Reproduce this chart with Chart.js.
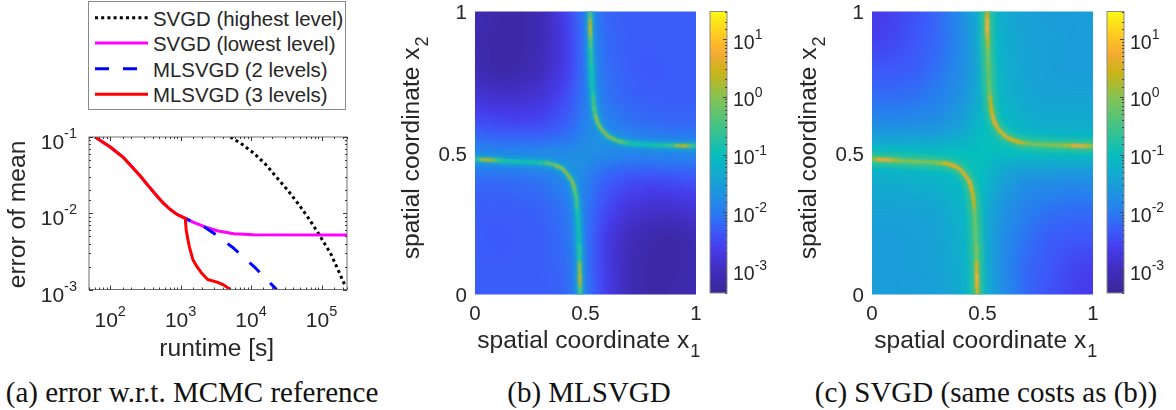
<!DOCTYPE html>
<html><head><meta charset="utf-8">
<script src="https://cdn.jsdelivr.net/npm/chart.js@4"></script>
<style>
html,body{margin:0;padding:0;background:#fff;width:1176px;height:410px;overflow:hidden}
canvas{position:absolute}
.cap{position:absolute;font-family:"Liberation Serif",serif;font-size:29px;color:#111;white-space:nowrap;line-height:30px;top:377px;transform:translateX(-50%)}
#legend{position:absolute;left:88px;top:1px;width:256px;height:107px;border:1px solid #8a8a8a;background:#fff;font-family:"Liberation Sans",sans-serif;font-size:20.4px;color:#262626}
#legend div{position:absolute;left:64px;white-space:nowrap;line-height:24px}
#legend svg{position:absolute;left:6px;top:0}
</style></head><body>
<canvas id="a"></canvas><canvas id="b"></canvas><canvas id="bc"></canvas><canvas id="c"></canvas><canvas id="cc"></canvas>
<div id="legend">
<svg width="56" height="107"><line x1="0" x2="53" y1="15.7" y2="15.7" stroke="#000" stroke-width="3" stroke-dasharray="3 3.2"/><line x1="0" x2="53" y1="41" y2="41" stroke="#ff00ff" stroke-width="3"/><line x1="0" x2="53" y1="66.7" y2="66.7" stroke="#0000ff" stroke-width="3" stroke-dasharray="14 14"/><line x1="0" x2="53" y1="92.3" y2="92.3" stroke="#ff0000" stroke-width="3"/></svg>
<div style="top:4.5px">SVGD (highest level)</div><div style="top:30px">SVGD (lowest level)</div><div style="top:56px">MLSVGD (2 levels)</div><div style="top:81px">MLSVGD (3 levels)</div>
</div>
<div class="cap" style="left:192px">(a) error w.r.t. MCMC reference</div>
<div class="cap" style="left:589px">(b) MLSVGD</div>
<div class="cap" style="left:986px">(c) SVGD (same costs as (b))</div>
<script>
// ---- panel (a) ----
const lowX=[61,100,155,203,267,351,461,573,713,887,1165,1530,2120,3290,5680,11000,230000];
const lowY=[.1,.074,.0536,.0408,.0308,.0227,.0168,.01345,.0112,.00966,.00855,.00758,.00671,.00589,.00538,.00522,.0052];
const highX=[5080,7500,11000,16000,23500,34000,50000,66000,87000,135000,170000,220000];
const highY=[.1,.08,.061,.044,.029,.0195,.0122,.0085,.00575,.00295,.00185,.00108];
const twoX=[1165,1530,2120,3290,5680,11000,23000];
const twoY=[.00855,.00758,.00671,.0051,.00347,.002,.001];
const threeX=[61,100,155,203,267,351,461,573,713,887,1165,1178,1200,1260,1330,1500,1706,2010,2420,3290,4070,5080];
const threeY=[.1,.074,.0536,.0408,.0308,.0227,.0168,.01345,.0112,.00966,.00855,.00734,.006,.00468,.00363,.00243,.00199,.00162,.00135,.00125,.00115,.001];
// ---- heat maps: log10 of the value on a non-uniform grid ----
const gridX=[0,.1,.2,.3,.4,.45,.5,.55,.6,.7,.8,.9,1];
const gridY=[1,.9,.8,.7,.6,.55,.5,.45,.4,.3,.2,.1,0];
const heatB=[
[-3.1,-3.2,-3.25,-3.1,-2.65,-2.35,-2.0,-2.0,-2.25,-2.3,-2.3,-2.3,-2.3],
[-3.15,-3.25,-3.25,-3.1,-2.7,-2.4,-2.05,-1.95,-2.2,-2.3,-2.3,-2.3,-2.3],
[-3.1,-3.25,-3.2,-3.05,-2.7,-2.4,-2.05,-1.9,-2.15,-2.3,-2.35,-2.3,-2.3],
[-2.8,-2.9,-2.9,-2.8,-2.5,-2.3,-2.0,-1.85,-2.1,-2.25,-2.3,-2.3,-2.3],
[-2.4,-2.45,-2.5,-2.45,-2.3,-2.15,-1.9,-1.75,-1.9,-2.1,-2.15,-2.2,-2.2],
[-2.15,-2.2,-2.2,-2.2,-2.1,-2.0,-1.8,-1.7,-1.7,-1.8,-1.9,-1.9,-1.9],
[-1.8,-1.85,-1.85,-1.8,-1.8,-1.75,-1.7,-1.75,-1.8,-1.85,-1.85,-1.85,-1.8],
[-1.9,-1.9,-1.9,-1.8,-1.7,-1.7,-1.8,-2.0,-2.1,-2.2,-2.2,-2.15,-2.15],
[-2.2,-2.2,-2.15,-2.1,-1.9,-1.75,-1.9,-2.15,-2.3,-2.45,-2.5,-2.45,-2.4],
[-2.3,-2.3,-2.3,-2.25,-2.1,-1.85,-2.0,-2.3,-2.5,-2.8,-2.9,-2.9,-2.8],
[-2.3,-2.35,-2.3,-2.3,-2.15,-1.9,-2.05,-2.4,-2.7,-3.05,-3.2,-3.25,-3.1],
[-2.3,-2.3,-2.3,-2.3,-2.2,-1.95,-2.05,-2.4,-2.7,-3.1,-3.25,-3.25,-3.15],
[-2.3,-2.3,-2.3,-2.3,-2.25,-2.0,-2.0,-2.35,-2.65,-3.1,-3.25,-3.2,-3.1]];
const heatC=[
[-2.7,-2.55,-2.4,-2.2,-1.8,-1.5,-1.1,-1.1,-1.35,-1.5,-1.55,-1.55,-1.5],
[-2.6,-2.5,-2.35,-2.2,-1.85,-1.55,-1.15,-1.05,-1.3,-1.45,-1.5,-1.55,-1.55],
[-2.35,-2.35,-2.3,-2.1,-1.8,-1.55,-1.2,-1.05,-1.25,-1.45,-1.5,-1.55,-1.55],
[-2.15,-2.15,-2.1,-1.95,-1.7,-1.5,-1.15,-1.0,-1.2,-1.4,-1.45,-1.45,-1.45],
[-1.75,-1.8,-1.75,-1.7,-1.5,-1.3,-1.05,-.95,-1.05,-1.25,-1.3,-1.3,-1.3],
[-1.45,-1.45,-1.45,-1.4,-1.25,-1.15,-1.0,-.95,-.95,-1.0,-1.05,-1.1,-1.1],
[-1.0,-1.0,-1.0,-1.0,-1.0,-1.0,-1.0,-1.0,-1.0,-1.0,-1.0,-1.0,-1.0],
[-1.1,-1.1,-1.05,-1.0,-.95,-.95,-1.0,-1.2,-1.35,-1.45,-1.45,-1.45,-1.45],
[-1.3,-1.3,-1.25,-1.2,-1.05,-.95,-1.05,-1.3,-1.5,-1.75,-1.75,-1.8,-1.75],
[-1.45,-1.45,-1.45,-1.4,-1.2,-1.0,-1.15,-1.5,-1.7,-1.95,-2.1,-2.15,-2.15],
[-1.55,-1.55,-1.5,-1.45,-1.25,-1.05,-1.2,-1.55,-1.8,-2.1,-2.3,-2.35,-2.35],
[-1.55,-1.55,-1.5,-1.45,-1.3,-1.05,-1.15,-1.55,-1.85,-2.2,-2.35,-2.5,-2.6],
[-1.5,-1.55,-1.55,-1.5,-1.35,-1.1,-1.1,-1.5,-1.8,-2.2,-2.4,-2.55,-2.7]];
// ridges along the two curved arms
const armLLx=[0,.03,.057,.085,.12,.19,.25,.295,.325,.348,.37,.396,.418,.441,.45,.458,.463,.468,.471,.473,.474,.475,.476];
const armLLy=[.478,.477,.476,.475,.473,.47,.468,.466,.464,.461,.454,.445,.425,.399,.373,.346,.30,.24,.17,.11,.064,.03,0];
const armURx=[.521,.521,.521,.522,.524,.526,.529,.534,.539,.546,.556,.575,.604,.63,.657,.69,.74,.807,.87,.91,.943,.97,1];
const armURy=[1,.97,.94,.91,.87,.805,.75,.70,.658,.63,.605,.58,.558,.548,.54,.535,.531,.528,.527,.526,.525,.525,.525];
const armLLb=[-.75,-.2,.9,-.2,-.65,-.9,-.9,-.8,-.55,.1,-.55,.7,-.55,.7,-.55,-.1,-.8,-.9,-.9,-.45,.8,-.1,-.55];
const armURb=[-.55,-.1,.8,-.2,-.45,-.9,-.9,-.8,-.1,-.55,.7,-.55,.7,-.55,.1,-.75,-.9,-.9,-.65,-.45,.9,-.2,-.75];
const armLLc=[.1,.4,1.15,.4,.05,-.05,-.05,-.05,.1,1.0,.05,1.1,.05,1.1,.1,.8,-.1,-.25,-.25,.1,1.0,.6,.4];
const armURc=[.4,.6,1.05,.4,.1,-.25,-.25,-.1,.8,.1,1.1,.05,1.1,.05,1.0,-.05,-.05,-.05,.05,.4,1.15,.4,.1];
// colour bar range and its map, bottom to top
const barMin=4e-4, barMax=30;
const cmapT=[0,.08,.16,.22,.287,.39,.49,.59,.69,.78,.85,.905,1];
const cmapC=[[58,38,150],[65,45,190],[70,60,235],[60,90,250],[40,125,240],[25,160,215],[5,190,190],[65,195,135],[130,195,85],[200,180,25],[245,170,50],[255,195,35],[250,250,20]];
// axis texts
const tickFracs=[0,.5,1];
const titleRuntime='runtime [s]', titleError='error of mean', titleX1='spatial coordinate x', titleX2='spatial coordinate x';

const logMin=Math.log10(barMin), logMax=Math.log10(barMax);
function rgbAt(t){t=Math.max(0,Math.min(1,t));let i=0;while(i<cmapT.length-2&&t>cmapT[i+1])i++;
  const f=(t-cmapT[i])/(cmapT[i+1]-cmapT[i]);return cmapC[i].map((c,k)=>c+(cmapC[i+1][k]-c)*f);}
function colorOf(v){const c=rgbAt((v-logMin)/(logMax-logMin));return `rgb(${c[0]|0},${c[1]|0},${c[2]|0})`;}
const FONT='"Liberation Sans",Arial,sans-serif', INK='#262626';
function pow10Label(v){const e=Math.round(Math.log10(v));if(Math.abs(Math.log10(v)-e)>1e-6)return '';return String(e);}
Chart.defaults.animation=false;Chart.defaults.responsive=false;Chart.defaults.font.family=FONT;Chart.defaults.color=INK;

function place(id,l,t,w,h){const c=document.getElementById(id);c.width=w;c.height=h;c.style.left=l+'px';c.style.top=t+'px';c.style.width=w+'px';c.style.height=h+'px';return c;}
const blurPlugin={id:'blurPlugin',
  beforeDatasetDraw(ch,a){const b=ch.data.datasets[a.index].blur;if(b)ch.ctx.filter=`blur(${b}px)`;},
  afterDatasetDraw(ch){ch.ctx.filter='none';}};
const heatPlugin={id:'heatPlugin',beforeDatasetsDraw(ch){
  const g=ch.options.plugins.heatPlugin.grid; if(!g)return;
  const a=ch.chartArea,M=12,w=Math.ceil(a.right-a.left)+2*M,h=Math.ceil(a.bottom-a.top)+2*M;
  const off=document.createElement('canvas');off.width=w;off.height=h;const o=off.getContext('2d'),im=o.createImageData(w,h);
  const sx=ch.scales.x,sy=ch.scales.y;
  const seg=(arr,v,dir)=>{let i=0;while(i<arr.length-2&&(dir>0?v>arr[i+1]:v<arr[i+1]))i++;let f=(v-arr[i])/(arr[i+1]-arr[i]);return [i,Math.max(0,Math.min(1,f))];};
  for(let py=0;py<h;py++){const [j,fy]=seg(gridY,sy.getValueForPixel(a.top-M+py+.5),-1);
    for(let px=0;px<w;px++){const [i,fx]=seg(gridX,sx.getValueForPixel(a.left-M+px+.5),1);
      const v=(g[j][i]*(1-fx)+g[j][i+1]*fx)*(1-fy)+(g[j+1][i]*(1-fx)+g[j+1][i+1]*fx)*fy;
      const c=rgbAt((v-logMin)/(logMax-logMin)),k=(py*w+px)*4;im.data[k]=c[0];im.data[k+1]=c[1];im.data[k+2]=c[2];im.data[k+3]=255;}}
  o.putImageData(im,0,0);
  const ctx=ch.ctx;ctx.save();ctx.beginPath();ctx.rect(a.left,a.top,a.right-a.left,a.bottom-a.top);ctx.clip();
  ctx.filter='blur(3px)';ctx.drawImage(off,a.left-M,a.top-M);ctx.restore();
}};
const boxPlugin={id:'boxPlugin',afterDraw(ch){
  const cfg=ch.options.plugins.boxPlugin;if(!cfg.on)return;
  const a=ch.chartArea,ctx=ch.ctx;ctx.save();ctx.strokeStyle=cfg.color;ctx.lineWidth=1;
  ctx.strokeRect(a.left,a.top,a.right-a.left,a.bottom-a.top);
  ctx.strokeStyle=cfg.tick;ctx.beginPath();
  for(const name of Object.keys(ch.scales)){const s=ch.scales[name];if(!cfg.axes.includes(name))continue;
    for(const t of s.ticks){const p=Math.round(s.getPixelForValue(t.value))+.5,L=t.major?cfg.maj:cfg.min;
      if(name==='x'){ctx.moveTo(p,a.bottom);ctx.lineTo(p,a.bottom-L);ctx.moveTo(p,a.top);ctx.lineTo(p,a.top+L);}
      else{if(cfg.both){ctx.moveTo(a.left,p);ctx.lineTo(a.left+L,p);}ctx.moveTo(a.right,p);ctx.lineTo(a.right-L,p);}}}
  ctx.stroke();ctx.restore();
}};
// text of ticks and titles, drawn at the positions the scales give
const textPlugin={id:'textPlugin',afterDraw(ch){
  const cfg=ch.options.plugins.textPlugin;const ctx=ch.ctx;ctx.save();ctx.fillStyle=INK;ctx.textBaseline='alphabetic';
  const font=s=>`${s}px ${FONT}`;
  const pow=(exp,x,y,size,expSize,raise,align)=>{ctx.font=font(size);const w=ctx.measureText('10').width;ctx.font=font(expSize);const ew=ctx.measureText(exp).width;
     const x0=align==='right'?x-w-ew:align==='center'?x-(w+ew)/2:x;ctx.textAlign='left';ctx.font=font(size);ctx.fillText('10',x0,y);ctx.font=font(expSize);ctx.fillText(exp,x0+w,y-raise);};
  for(const tk of cfg.ticks){const s=ch.scales[tk.axis];
    for(const t of s.ticks){if(!t.label)continue;const p=s.getPixelForValue(t.value);
      if(tk.pow){ if(tk.axis==='x')pow(t.label,p,tk.at,tk.size,tk.exp,tk.raise,'center'); else pow(t.label,tk.at,p+tk.dy,tk.size,tk.exp,tk.raise,tk.align);}
      else{ctx.font=font(tk.size);ctx.textAlign=tk.axis==='x'?'center':'right'; if(tk.axis==='x')ctx.fillText(t.label,p,tk.at); else ctx.fillText(t.label,tk.at,p+tk.dy);}}}
  for(const tl of cfg.titles||[]){ctx.save();ctx.translate(tl.x,tl.y);if(tl.rot)ctx.rotate(-Math.PI/2);ctx.textAlign='left';ctx.font=font(tl.size);ctx.fillText(tl.text,0,0);
    if(tl.sub){const w=ctx.measureText(tl.text).width;ctx.font=font(tl.subSize);ctx.fillText(tl.sub,w+1,tl.subDrop);}ctx.restore();}
  ctx.restore();
}};
Chart.register(blurPlugin,heatPlugin,boxPlugin,textPlugin);
const pts=(X,Y)=>X.map((x,i)=>({x,y:Y[i]}));

// panel (a)
place('a',0,120,360,243);
const lineStyle={pointRadius:0,tension:0,borderJoinStyle:'round'};
new Chart('a',{type:'line',data:{datasets:[
 {label:'MLSVGD (3 levels)',data:pts(threeX,threeY),borderColor:'#ff0000',borderWidth:3,...lineStyle},
 {label:'MLSVGD (2 levels)',data:pts(twoX,twoY),borderColor:'#0000ff',borderWidth:3,borderDash:[14,15],borderDashOffset:8.5,...lineStyle},
 {label:'SVGD (lowest level)',data:pts(lowX,lowY),borderColor:'#ff00ff',borderWidth:3,...lineStyle},
 {label:'SVGD (highest level)',data:pts(highX,highY),borderColor:'#000',borderWidth:3,borderDash:[3,3.2],...lineStyle}
]},options:{layout:{padding:{left:0,right:13,top:17,bottom:0}},plugins:{legend:{display:false},tooltip:{enabled:false},heatPlugin:{},
  boxPlugin:{on:true,color:'#6e6e6e',tick:'#3a3a3a',axes:['x','y'],both:true,maj:4,min:2},
  textPlugin:{ticks:[{axis:'x',pow:true,at:206.5,size:21,exp:14.5,raise:11},{axis:'y',pow:true,at:77,dy:12,size:21,exp:14.5,raise:11,align:'right'}],
    titles:[{text:titleRuntime,x:159.3,y:236,size:24.6},{text:titleError,x:25,y:168.3,size:24.6,rot:true}]}},
 scales:{
  x:{type:'logarithmic',min:50,max:230000,grid:{display:false},border:{display:false},
    ticks:{display:false,autoSkip:false,callback:pow10Label},afterFit:s=>{s.height=73.5;}},
  y:{type:'logarithmic',min:.001,max:.1,grid:{display:false},border:{display:false},
    ticks:{display:false,autoSkip:false,callback:pow10Label},afterFit:s=>{s.width=89;}}
 }}});

function heatChart(id,left,grid,vLL,vUR,glowV,glowW,coreW,glowBlur,coreBlur){
 const ox=left-75;place(id,ox,0,310,365);
 const line=(X,Y,V,w,b,glow)=>({data:pts(X,Y),type:'line',pointRadius:0,borderWidth:w,blur:b,tension:0,borderCapStyle:'round',borderJoinStyle:'round',
   borderColor:colorOf(glow===undefined?-1:glow),
   segment:glow===undefined?{borderColor:c=>colorOf((V[c.p0DataIndex]+V[c.p1DataIndex])/2)}:undefined});
 new Chart(id,{type:'scatter',data:{datasets:[
   line(armLLx,armLLy,vLL,coreW,coreBlur),line(armURx,armURy,vUR,coreW,coreBlur),
   line(armLLx,armLLy,vLL,glowW,glowBlur,glowV),line(armURx,armURy,vUR,glowW,glowBlur,glowV)
 ]},options:{layout:{padding:{left:0,right:14,top:11.5,bottom:0}},plugins:{legend:{display:false},tooltip:{enabled:false},heatPlugin:{grid},boxPlugin:{on:false},
   textPlugin:{ticks:[{axis:'x',at:320,size:20.5},{axis:'y',at:67,dy:7.5,size:20.5}],
     titles:[{text:titleX1,x:77.3,y:348.3,size:24.6,sub:'1',subSize:18,subDrop:9},{text:titleX2,x:19.3,y:259.3,size:24.6,rot:true,sub:'2',subSize:18,subDrop:9}]}},
  scales:{
   x:{type:'linear',min:0,max:1,grid:{display:false},border:{display:false},afterBuildTicks:s=>{s.ticks=tickFracs.map(value=>({value}));},
     ticks:{display:false,autoSkip:false,callback:v=>String(v)},afterFit:s=>{s.height=70.5;}},
   y:{type:'linear',min:0,max:1,grid:{display:false},border:{display:false},afterBuildTicks:s=>{s.ticks=tickFracs.map(value=>({value}));},
     ticks:{display:false,autoSkip:false,callback:v=>String(v)},afterFit:s=>{s.width=75;}}
  }}});
}
function barChart(id,left){
 place(id,left,0,76,320);
 new Chart(id,{type:'bar',data:{labels:['value'],datasets:[{data:[[barMin,barMax]],barPercentage:1,categoryPercentage:1,borderWidth:0,
   backgroundColor:c=>{const a=c.chart.chartArea;if(!a)return '#888';const g=c.chart.ctx.createLinearGradient(0,a.bottom,0,a.top);cmapT.forEach((t,i)=>g.addColorStop(t,`rgb(${cmapC[i].join(',')})`));return g;}}]},
  options:{layout:{padding:{left:10,right:0,top:11.5,bottom:27}},plugins:{legend:{display:false},tooltip:{enabled:false},heatPlugin:{},
    boxPlugin:{on:true,color:'#8a8a8a',tick:'#4a4a4a',axes:['y'],both:false,maj:4,min:2},
    textPlugin:{ticks:[{axis:'y',pow:true,at:33,dy:9.5,size:19.5,exp:14,raise:9.5,align:'left'}]}},
   scales:{x:{display:false},
    y:{type:'logarithmic',position:'right',min:barMin,max:barMax,grid:{display:false},border:{display:false},
     ticks:{display:false,autoSkip:false,callback:pow10Label},afterFit:s=>{s.width=49;}}}}});
}
heatChart('b',475,heatB,armLLb,armURb,-1.3,8,3.2,2,.8);
barChart('bc',700);
heatChart('c',872,heatC,armLLc,armURc,-.65,13,3.6,2,.9);
barChart('cc',1097);
</script></body></html>
